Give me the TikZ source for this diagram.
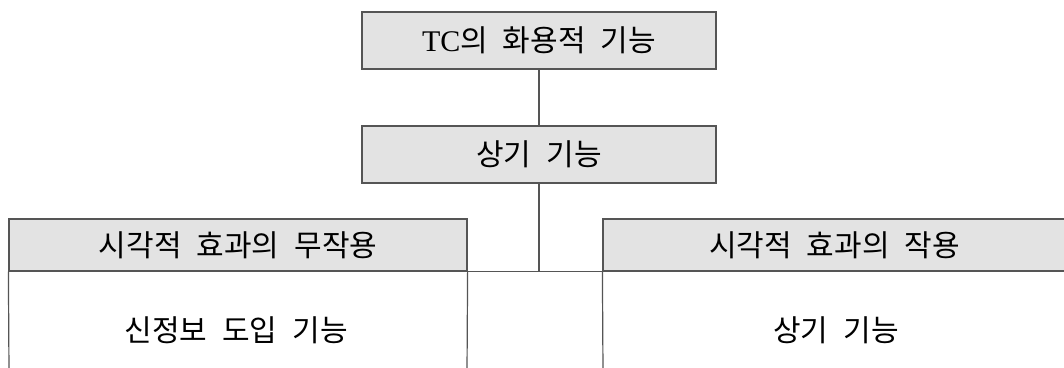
\documentclass[tikz,border=0pt]{standalone}
\usepackage{fontspec}
\setmainfont{Noto Sans CJK KR}
\newfontfamily\lat{Liberation Serif}
\definecolor{boxfill}{HTML}{E3E3E3}
\definecolor{edge}{HTML}{555555}
\newcommand\krsize{\fontsize{30}{34}\selectfont\spaceskip=0.5em\relax}
\tikzset{
  hdr/.style={draw=edge, line width=1.2pt, fill=boxfill, inner sep=0pt, font=\krsize},
  bodytxt/.style={inner sep=0pt, font=\krsize},
  conn/.style={draw=edge, line width=1.2pt}
}
\begin{document}
\begin{tikzpicture}[x=1pt,y=-1pt]
\clip (0,0) rectangle (1064,367);
\fill[white] (0,0) rectangle (1064,367);
% top boxes
\node[hdr, minimum width=354pt, minimum height=57pt] (top) at (539,40.5) {{\lat TC}의 화용적 기능};
\node[hdr, minimum width=354pt, minimum height=57pt] (mid) at (539,154.5) {상기 기능};
% left column
\node[hdr, minimum width=458pt, minimum height=52pt] (lh) at (238,245) {시각적 효과의 무작용};
\node[bodytxt] (lb) at (236,330) {신정보 도입 기능};
\coordinate (lbl) at (9,372);
\coordinate (lbr) at (467,372);
\draw[conn] (lh.south west) -- (lbl);
\draw[conn] (lh.south east) -- (lbr);
% right column
\node[hdr, minimum width=463pt, minimum height=52pt] (rh) at (834.5,245) {시각적 효과의 작용};
\node[bodytxt] (rb) at (836,330) {상기 기능};
\coordinate (rbl) at (603,372);
\draw[conn] (rh.south west) -- (rbl);
% connectors
\coordinate (junc) at (539,271);
\draw[conn] (top.south) -- (mid.north);
\draw[conn] (mid.south) -- (junc);
\draw[conn] (lh.south east) -- (rh.south west);
\end{tikzpicture}
\end{document}
